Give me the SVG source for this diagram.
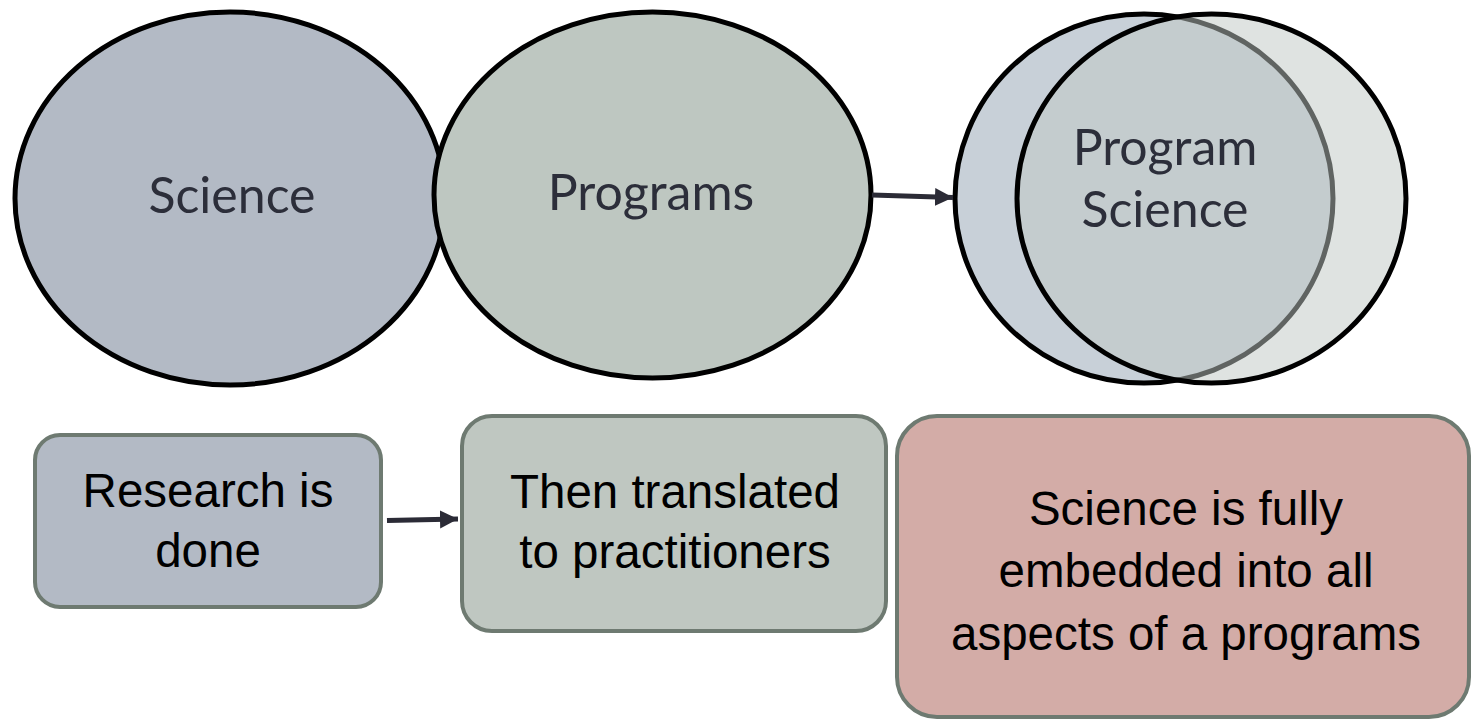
<svg xmlns="http://www.w3.org/2000/svg" width="1472" height="721" viewBox="0 0 1472 721">
<style>
.ell{stroke:#000;stroke-width:5}
.et{font-family:Lato,"Open Sans",sans-serif;font-weight:400;font-size:50px;fill:#2c2e3a;text-anchor:middle}
.box{stroke:#6e7a71;stroke-width:4}
.bt{font-family:"Liberation Sans",Arial,sans-serif;font-size:47.5px;fill:#000;text-anchor:middle}
.conn{stroke:#2b2b36;stroke-width:5;fill:none}
</style>
<defs>
<marker id="ah" markerUnits="userSpaceOnUse" markerWidth="20" markerHeight="20" refX="18" refY="10" orient="auto">
<path d="M0,1 L18,10 L0,19 Z" fill="#2b2b36"/>
</marker>
</defs>
<rect width="1472" height="721" fill="#fff"/>
<g id="science">
<ellipse class="ell" cx="230" cy="198.5" rx="215" ry="186.5" fill="#b3bac5"/>
<text class="et" x="232" y="213">Science</text>
</g>
<g id="programs">
<ellipse class="ell" cx="652.5" cy="195" rx="218.5" ry="183" fill="#bec7c1"/>
<text class="et" x="651" y="210">Programs</text>
</g>
<g id="program-science">
<ellipse class="ell" cx="1144" cy="198.5" rx="189" ry="184.5" fill="#c8d0d8"/>
<ellipse cx="1211.5" cy="198.5" rx="194.5" ry="184.5" fill="#bfc7c3" fill-opacity="0.5" stroke="none"/>
<path class="ell" fill="none" d="M1211.5,14 A194.5,184.5 0 1 1 1211.5,383 A194.5,184.5 0 1 1 1211.5,14"/>
<text class="et" x="1165" y="165">Program</text>
<text class="et" x="1165" y="227">Science</text>
</g>
<g id="research">
<rect class="box" x="35" y="435" width="346" height="172" rx="25" fill="#b3bac5"/>
<text class="bt" x="208" y="507">Research is</text>
<text class="bt" x="208" y="567">done</text>
</g>
<g id="translated">
<rect class="box" x="462" y="416" width="424" height="215" rx="30" fill="#bfc7c1"/>
<text class="bt" x="675" y="508">Then translated</text>
<text class="bt" x="675" y="568">to practitioners</text>
</g>
<g id="embedded">
<rect class="box" x="897" y="416" width="572" height="301" rx="40" fill="#d3aca7"/>
<text class="bt" x="1186" y="525">Science is fully</text>
<text class="bt" x="1186" y="587">embedded into all</text>
<text class="bt" x="1186" y="650">aspects of a programs</text>
</g>
<g id="connectors">
<line class="conn" x1="872" y1="195" x2="953" y2="197.5" marker-end="url(#ah)"/>
<line class="conn" x1="387" y1="520.5" x2="458" y2="519" marker-end="url(#ah)"/>
</g>
</svg>
